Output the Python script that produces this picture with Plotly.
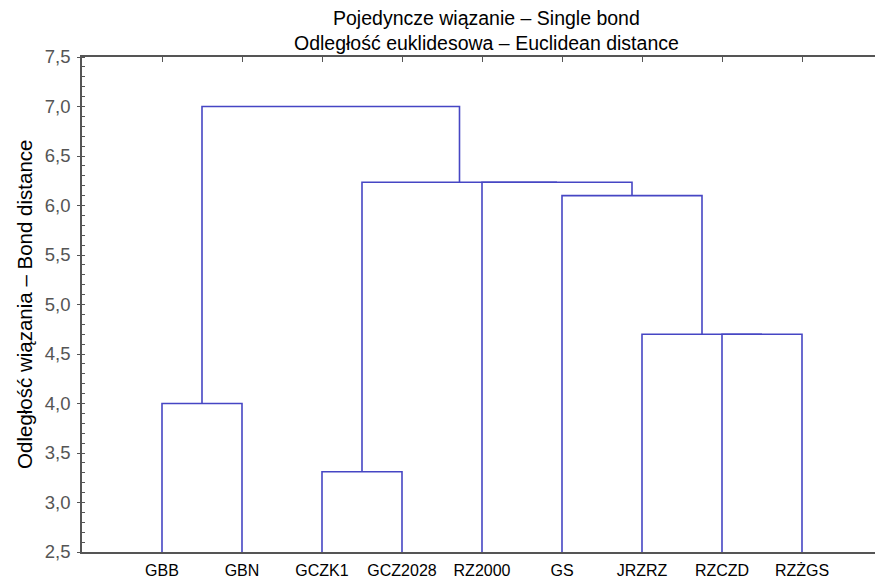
import plotly.graph_objects as go

# ---- data ----
labels = ["GBB", "GBN", "GCZK1", "GCZ2028", "RZ2000", "GS", "JRZRZ", "RZCZD", "RZŻGS"]
leaf_pos = [1, 2, 3, 4, 5, 6, 7, 8, 9]
# merges: clusters are numbered after the leaves (9, 10, ...)
merge_left = [2, 0, 7, 6, 5, 4, 9, 10]
merge_right = [3, 1, 8, 11, 12, 13, 14, 15]
merge_height = [3.31, 4.0, 4.70, 4.70, 6.10, 6.235, 6.235, 7.0]
y_range = [2.5, 7.5]
y_tickvals = [2.5, 3.0, 3.5, 4.0, 4.5, 5.0, 5.5, 6.0, 6.5, 7.0, 7.5]
y_ticktext = ["2,5", "3,0", "3,5", "4,0", "4,5", "5,0", "5,5", "6,0", "6,5", "7,0", "7,5"]

title_lines = ["Pojedyncze wiązanie – Single bond", "Odległość euklidesowa – Euclidean distance"]
y_title = "Odległość wiązania – Bond distance"

# ---- build dendrogram segments ----
node_x = list(leaf_pos)
node_h = [y_range[0]] * len(leaf_pos)
xs, ys = [], []
for a, b, h in zip(merge_left, merge_right, merge_height):
    xa, xb = node_x[a], node_x[b]
    xs += [xa, xa, xb, xb, None]
    ys += [node_h[a], h, h, node_h[b], None]
    node_x.append((xa + xb) / 2)
    node_h.append(h)

FONT = "Liberation Sans, Arial, sans-serif"
LINE_COL = "#4646c4"
AX_COL = "#555555"

fig = go.Figure()
fig.add_trace(go.Scatter(x=xs, y=ys, mode="lines",
                         line=dict(color=LINE_COL, width=1.6),
                         hoverinfo="skip", showlegend=False))
# invisible trace for top axis
fig.add_trace(go.Scatter(x=leaf_pos, y=[None] * len(leaf_pos), xaxis="x2",
                         mode="markers", showlegend=False, hoverinfo="skip"))

# page body has an 8px margin, so the figure is sized/positioned to compensate
fig.update_layout(
    width=875, height=573,
    margin=dict(l=74, r=1, t=49, b=29),
    paper_bgcolor="white", plot_bgcolor="white",
    font=dict(family=FONT, color="black"),
    xaxis=dict(range=[0, 10], tickvals=leaf_pos, ticktext=labels,
               showline=True, linecolor=AX_COL, linewidth=1.5,
               showgrid=False, zeroline=False, ticks="", automargin=False,
               ticklabelstandoff=3,
               tickfont=dict(size=16, color="black")),
    xaxis2=dict(range=[0, 10], overlaying="x", side="top", tickvals=leaf_pos,
                showticklabels=False, ticks="inside", ticklen=5, tickcolor=AX_COL,
                showline=True, linecolor=AX_COL, linewidth=1.5, automargin=False,
                showgrid=False, zeroline=False),
    yaxis=dict(range=y_range, tickvals=y_tickvals, ticktext=y_ticktext,
               showline=True, linecolor=AX_COL, linewidth=1.5,
               showgrid=False, zeroline=False, automargin=False,
               ticks="outside", ticklen=3, tickcolor=AX_COL,
               ticklabelstandoff=3,
               tickfont=dict(size=18.5, color="#555555"),
               minor=dict(dtick=0.1, ticks="inside", ticklen=3, tickcolor=AX_COL)),
    annotations=[
        dict(text="<br>".join(title_lines), xref="paper", yref="paper",
             x=0.505, y=1.0, yshift=52, xanchor="center", yanchor="top",
             showarrow=False, font=dict(size=19.5, color="black")),
        dict(text=y_title, xref="paper", yref="paper", x=-0.072, y=0.5,
             xanchor="center", yanchor="middle", textangle=-90,
             showarrow=False, font=dict(size=20.5, color="black")),
    ],
)

fig.write_html("out.html")
